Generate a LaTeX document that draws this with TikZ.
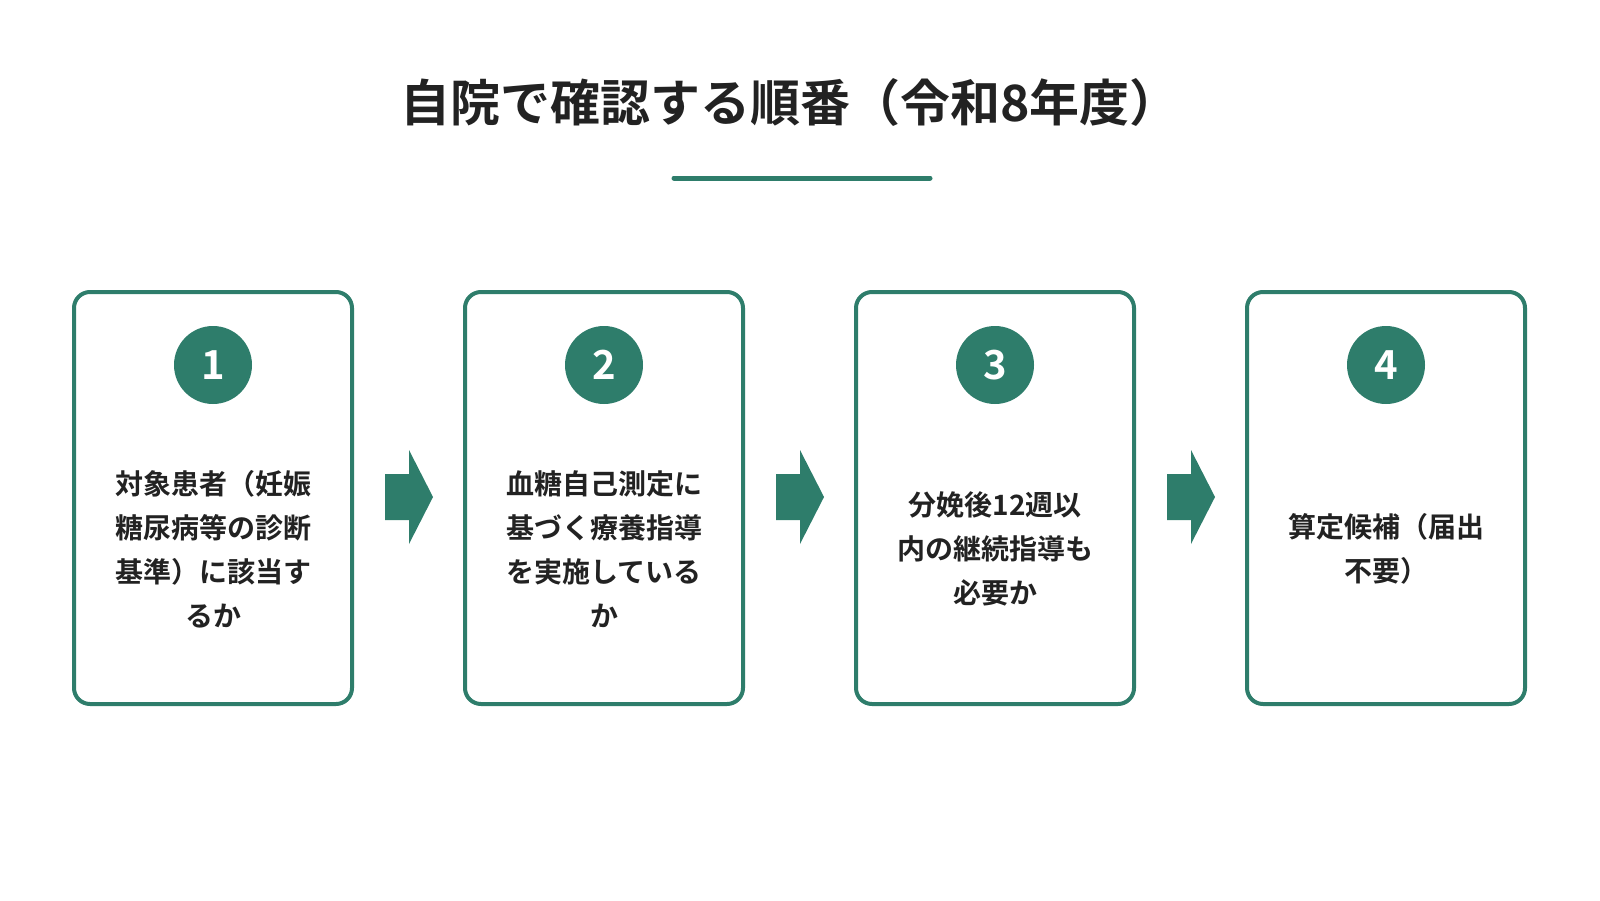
\documentclass[tikz,border=0pt]{standalone}
\usepackage{fontspec}
\newfontfamily\jp{Noto Sans CJK JP}[BoldFont={Noto Sans CJK JP Bold}]
\definecolor{gr}{HTML}{2E7D6B}
\definecolor{tx}{HTML}{222222}
\begin{document}
\begin{tikzpicture}[x=1pt,y=-1pt,
 box/.style={draw=gr,line width=4pt,rounded corners=16pt,minimum width=278pt,minimum height=412pt},
 num/.style={circle,fill=gr,minimum size=78pt,inner sep=0pt,text=white,font=\jp\bfseries\fontsize{40}{40}\selectfont},
 lbl/.style={align=center,text=tx,font=\jp\bfseries\fontsize{28}{44}\selectfont},
 arr/.style={fill=gr}]
\useasboundingbox (0,0) rectangle (1600,900);
\node[text=tx,font=\jp\bfseries\fontsize{50}{56}\selectfont] (t) at (790,102) {自院で確認する順番（令和8年度）};
\coordinate (u1) at (674,178); \coordinate (u2) at (930,178);
\draw[gr,line width=5pt,line cap=round] (u1) -- (u2);
\foreach \i/\x/\n/\t in {1/213/1/{対象患者（妊娠\\糖尿病等の診断\\基準）に該当す\\るか},2/604/2/{血糖自己測定に\\基づく療養指導\\を実施している\\か},3/995/3/{分娩後12週以\\内の継続指導も\\必要か},4/1386/4/{算定候補（届出\\不要）}}{
 \node[box] (b\i) at (\x,498) {};
 \node[num] (n\i) at (\x,365) {\n};
 \node[lbl] (l\i) at (\x,549) {\t};
}
\foreach \x/\k in {409/a,800/b,1191/c}{
 \fill[arr] (\x-24,474) -- (\x,474) -- (\x,450) -- (\x+24,497) -- (\x,544) -- (\x,520) -- (\x-24,520) -- cycle;
}
\end{tikzpicture}
\end{document}
